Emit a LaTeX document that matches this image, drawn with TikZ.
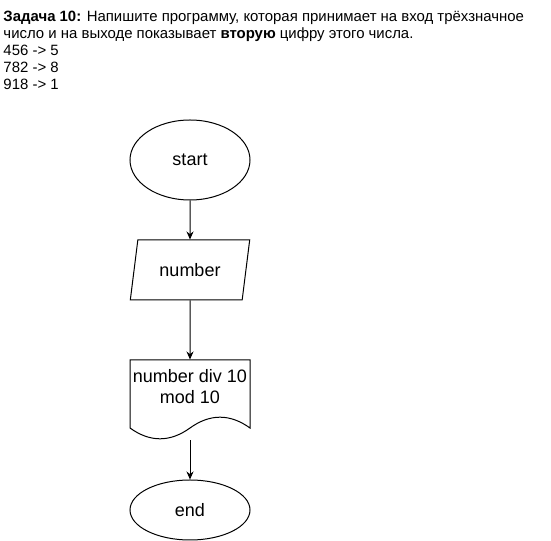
\documentclass[tikz,border=0pt]{standalone}
\usepackage{fontspec}
\setmainfont{Liberation Sans}
\usetikzlibrary{shapes.geometric,arrows.meta}
\begin{document}
\begin{tikzpicture}[x=0.75pt,y=-0.75pt,line width=0.75pt,
    blocktext/.style={font=\fontsize{13.5pt}{15.75pt}\selectfont},
    terminal/.style={blocktext,draw,ellipse,minimum width=90pt,inner sep=0pt},
    inputbox/.style={blocktext,draw,trapezium,trapezium left angle=71.6,
      trapezium right angle=108.4,trapezium stretches=true,
      minimum width=90pt,minimum height=45pt,inner sep=0pt},
    docbox/.style={minimum width=90pt,minimum height=60pt,inner sep=0pt},
    flow/.style={-{Stealth[length=6pt,width=5.25pt]}}]
  \useasboundingbox (0,0) rectangle (551,541);
  \node[anchor=north west,align=left,inner sep=0pt,
    font=\fontsize{11.2pt}{12.75pt}\selectfont] (task) at (3,11)
    {\textbf{Задача 10:} Напишите программу, которая принимает на вход трёхзначное\\
     число и на выходе показывает \textbf{вторую} цифру этого числа.\\
     456 -> 5\\
     782 -> 8\\
     918 -> 1};
  \draw
    (190,160) node[terminal,minimum height=60pt] (start){start}
    (190,270) node[inputbox] (number){number}
    (190,400) node[docbox] (doc){}
    (190,387) node[blocktext,align=center] (calc){number div 10\\mod 10}
    (190,510) node[terminal,minimum height=45pt] (end){end};
  % document outline
  \draw (130,360) -- (250,360) -- (250,428)
    .. controls (230,413.6) and (210,413.6) .. (190,428)
    .. controls (170,442.4) and (150,442.4) .. (130,428) -- cycle;
  \begin{scope}[flow]
    \draw (start) to (number);
    \draw (number) to (doc);
    \draw (doc) to (end);
  \end{scope}
\end{tikzpicture}
\end{document}
